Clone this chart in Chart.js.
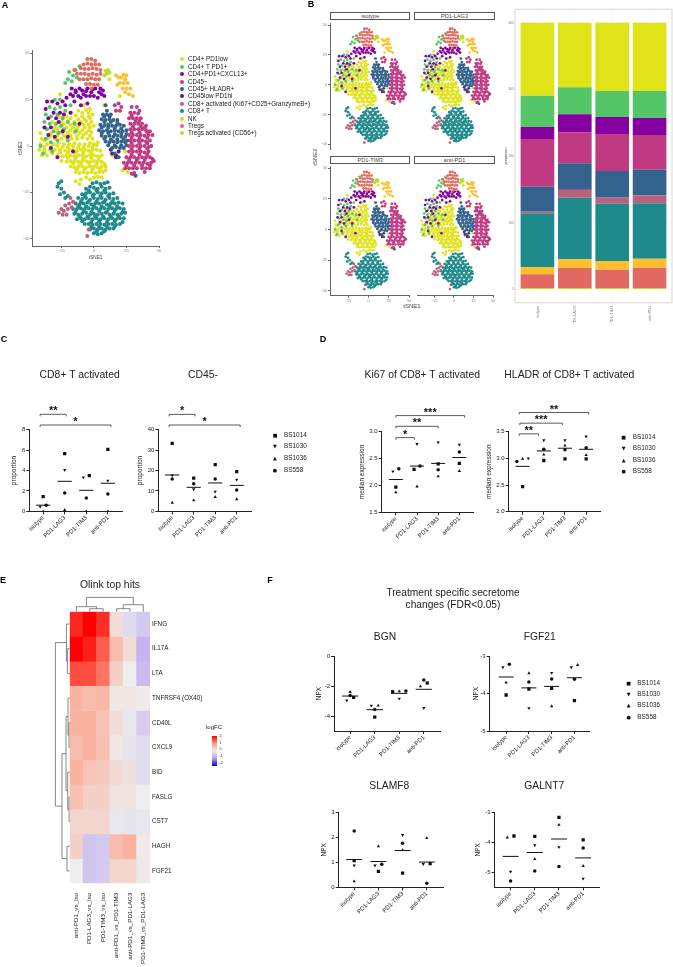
<!DOCTYPE html>
<html>
<head>
<meta charset="utf-8">
<title>Figure</title>
<script src="https://cdn.jsdelivr.net/npm/chart.js@4"></script>
<style>
body{margin:0;background:#fff;width:673px;height:967px;overflow:hidden;position:relative;filter:blur(.3px)}
canvas{position:absolute}
.t{position:absolute;white-space:nowrap;color:#222;font-family:"Liberation Sans",Arial,sans-serif;line-height:1}
.strip{position:absolute;border:1px solid #555;box-sizing:border-box;background:#fff;text-align:center;color:#444;font:5.6px "Liberation Sans",Arial,sans-serif}
</style>
</head>
<body>
<script>
// ---- data -------------------------------------------------------------
const treatments=['isotype','PD1-LAG3','PD1-TIM3','anti-PD1'];
const patients=['BS1014','BS1030','BS1036','BS558'];
const patientGlyphs=['■','▼','▲','●'];

const clusterNames=['CD4+ PD1low','CD4+ T PD1+','CD4+PD1+CXCL13+','CD45−','CD45+ HLADR+','CD45low PD1hi','CD8+ activated (Ki67+CD25+GranzymeB+)','CD8+ T','NK','Tregs','Tregs activated (CD56+)'];
const clusterColors=['#DFE318','#55C667','#8400A0','#C03A83','#33638D','#482878','#B8627D','#1F8A8C','#FDBF2E','#E16A62','#B8DE29'];

// tSNE maps
const cd4Low=[[-10,-18],[-6,-17],[-3,-18],[0,-17],[3,-16.5],[6,-17],[-14,-19],[-11,-20.5],
[-14,-14],[-11,-14.5],[-8,-14],[-5,-14.5],[-2,-14],[1,-14.5],[4,-14],[7,-14],[9,-13],
[-18,-11],[-15,-11.5],[-12,-11],[-9,-11],[-6,-11.5],[-3,-11],[0,-11],[3,-11.5],[6,-11],[9,-11],
[-25,-8],[-21,-8.5],[-18,-8],[-15,-8],[-12,-8.5],[-9,-8],[-6,-8],[-3,-8.5],[0,-8],[3,-8],[6,-8.5],
[-40,-5],[-36,-5],[-28,-5],[-24,-5.5],[-21,-5],[-18,-5],[-15,-5.5],[-12,-5],[-9,-5],[-6,-5.5],[-3,-5],[0,-5],[3,-5.5],[6,-5],
[-42,-2],[-38,-2],[-34,-2],[-30,-2],[-26,-2],[-22,-2.5],[-19,-2],[-16,-2],[-13,-2.5],[-10,-2],[-7,-2],[-4,-2.5],[-1,-2],[2,-2],[5,-2.5],
[-41,1],[-36,1],[-31,1],[-27,1.5],[-23,1],[-19,1],[-15,1.5],[-11,1],[-7,1],[-3,1.5],[0,1],[3,2],
[-40,4],[-35,4.5],[-30,4],[-25,4],[-21,4.5],[-17,4],[-13,4],[-9,4.5],[-5,4],[-1,4],
[-41,7],[-33,7],[-28,7.5],[-24,7],[-20,7],[-15,7.5],[-11,7],[-6,7],[-2,7.5],
[-30,10],[-26,10.5],[-21,10],[-16,10],[-12,10.5],[-7,10],[-3,10],[0,11],
[-32,13],[-25,13],[-20,13.5],[-15,13],[-10,13],[-6,13.5],[-2,13],
[-27,16],[-21,16],[-14,16.5],[-9,16],[-4,16],[-1,17],[-22,19],[-12,19],[-6,19.5],[-3,20],[-26,28],[-8,22],
[8,22],[10,12],[14,-5],[24,-3],[22,-13],[26,-14],[12,36],[20,27],
[-38,3],[-33,5.5],[-28,5.5],[-23,5.5],[-18,5.5],[-13,5.5],[-8,6],[-3,5.5],[-28,9],[-23,8.5],[-18,8.5],[-13,9],[-9,8.5],[-4,8.5],[-29,12],[-23,12],[-18,11.5],[-13,11.5],[-8,11.5],[-4,11.5],[-24,15],[-18,15],[-12,14.5],[-7,14.5],[-3,15],[-17,18],[-9,18],[-4,18],
[-38,-.5],[-33,-.5],[-28,0],[-24,-.5],[-20,-.5],[-16,0],[-12,-.5],[-8,-.5],[-4,0],[-1,-.5],[2,.5],[-38,-3.5],[-32,-4],[-26,-3.5],[-20,-3.5],[-14,-3.5],[-8,-3.5],[-2,-3.5],[-20,-6.5],[-14,-6.5],[-8,-6.5],[-2,-6.5],[4,-6.5],[-16,-9.5],[-10,-9.5],[-4,-9.5],[2,-9.5],[8,-9.5],[-13,-12.5],[-7,-12.5],[-1,-12.5],[5,-12.5]];
const cd4T=[[-19,40],[-16,38],[-20,36],[-17,35],[-22,34],[-14,41],[-13,37],[-11,43],
[-30,25],[-26,25],[-34,21],[-30,20],[-26,21],[-22,19],[-37,17],[-33,16],[-28,17],[-24,15],[-38,13],[-34,12],[-29,12],[-25,11],[-36,9],[-31,8],[-27,7],[-37,4],[-33,2],[-41,0],[-39,-4],[-28,3],[-23,9],[-20,13],[-15,12],[-18,22],[-14,8],[-20,3],[-32,-3]];
const cd4Cxcl=[[-17,31],[-14,29],[-11,31],[-8,28],[-5,31],[-2,29],[1,31],[4,29],[7,30],[-12,27],[-6,27],[0,27],[3,26],[8,27],[-16,27],[-9,30],[-3,27],[5,31],[-18,28],[-14,30],[-6,29.5],[-1,30.5],[6,28],[-10,26],
[-36,24],[-32,24],[-28,23],[-24,24],[-21,26],[-37,20],[-31,18],[-26,18],[-22,22],[-35,15],[-29,15],[-23,17],[-18,18],[-38,10],[-33,10],[-27,13],[-24,8],[-35,6],[-30,5],[-20,5],[-33,-1],[-28,-6],[-16,-3],[-11,12],[-10,22],[-15,24],[-5,23],[14,-4],[17,-6]];
const cd45Neg=[[16,22],[19,23],[21,21],[17,19],[20,19],[29,21],[33,21],[35,19],[28,18],[31,18],[34,17.5],[27,15],[30,15],[33,15],[36,15],[28,12],[31,12],[34,12],[37,12],[40,11],
[28,9],[31,9],[34,9],[37,9],[40,8.5],[43,8],[27,6],[30,6],[33,6],[36,6],[39,5.5],[42,6],[45,6],[28,3],[31,3],[34,3],[37,3],[40,2.5],[43,3],[27,0],[30,0],[33,0],[36,0],[39,0],[42,-.5],[44,0],
[27,-3],[30,-3],[33,-3],[36,-3],[39,-3.5],[42,-3],[25,-6],[28,-6],[31,-6],[34,-6.5],[37,-6],[40,-6],[43,-6],[23,-9],[26,-9],[29,-9],[32,-9],[35,-9],[38,-9],[41,-9.5],[44,-9],[46,-8],
[24,-12],[27,-12],[30,-12],[33,-12],[37,-12],[40,-12],[43,-12],[31,-14.5],[29,-15],[39,-14],
[29,16.5],[32,13.5],[35,13.5],[30,10.5],[36,10.5],[39,10],[29,7.5],[35,7.5],[41,7.5],[29,4.5],[35,4.5],[41,4.5],[29,1.5],[35,1.5],[41,1.5],[29,-1.5],[35,-1.5],[41,-1.5],[29,-4.5],[35,-4.5],[41,-4.5],[27,-7.5],[33,-7.5],[39,-7.5],[45,-7],[25,-10.5],[31,-10.5],[37,-10.5],[43,-10.5]];
const cd45Hladr=[[9,22],[10,19],[7,17],[10,17],[13,17],[6,14.5],[9,14],[12,14.5],[15,14],[18,14],[5,11.5],[8,11],[11,11.5],[14,11],[17,11],[20,11.5],[23,11],[4,8.5],[7,8],[10,8.5],[13,8],[16,8.5],[19,8],[22,8],[25,8.5],
[6,5.5],[9,5],[12,5.5],[15,5],[18,5.5],[21,5],[24,5],[26,3],[9,2.5],[12,2],[15,2.5],[18,2],[21,2.5],[24,2],[14,-1],[17,-.5],[20,-1],[23,-1],[16,-4],[19,-6],[30,-15],[32,-16],
[8,16],[12,16],[8,13],[13,13],[18,12.5],[6,10],[11,10],[16,9.5],[21,9.5],[6,7],[11,7],[16,6.5],[21,6.5],[25,6.5],[8,4],[13,3.5],[18,3.5],[23,3.5],[11,.5],[16,.5],[21,.5],[25,.5]];
const cd45Low=[[17,-5],[19,-3],[13,-2]];
const cd8Act=[[-16,-30],[-19,-31],[-22,-32],[-17,-33],[-20,-34],[-25,-34],[-23,-35],[-27,-36],[-24,-37],[-21,-37],[-18,-28],[-4,-45],[-5,-48.5]];
const cd8T=[[-1,-20],[2,-19.5],[5,-20.5],[8,-20],[10.5,-19.5],[-6,-23],[-3,-22],[0,-22.5],[3,-23],[6,-22],[9,-23],[12,-22.5],
[-9,-26],[-6,-25.5],[-3,-25],[0,-26],[3,-25],[6,-25.5],[9,-25],[12,-26],[15,-25.5],[-12,-28],[-9,-28.5],[-6,-28],[-3,-29],[0,-28],[3,-28.5],[6,-28],[9,-29],[12,-28],[15,-28.5],[18,-28],
[-14,-31],[-11,-31.5],[-8,-31],[-5,-30.5],[-2,-31.5],[1,-31],[4,-31],[7,-30.5],[10,-31.5],[13,-31],[16,-31],[19,-30.5],[22,-31],
[-16,-34],[-13,-34],[-10,-33.5],[-7,-34],[-4,-33.5],[-1,-34],[2,-33.5],[5,-34],[8,-33.5],[11,-34],[14,-33.5],[17,-34],[20,-33.5],[23,-34],
[-15,-36.5],[-12,-37],[-9,-36.5],[-6,-36],[-3,-37],[0,-36.5],[3,-37],[6,-36.5],[9,-36],[12,-37],[15,-36.5],[18,-37],[21,-36.5],[24,-36],
[-13,-39.5],[-10,-39],[-7,-39.5],[-4,-39],[-1,-39.5],[2,-39],[5,-39.5],[8,-39],[11,-39.5],[14,-39],[17,-39.5],[20,-39],[23,-39],
[-7,-42],[-4,-42],[-1,-42.5],[2,-42],[5,-42],[8,-42.5],[11,-42],[14,-42],[17,-42.5],[20,-42],[-3,-45],[0,-44.5],[3,-45],[6,-44.5],[9,-45],[12,-44.5],[15,-44.5],[0,-47],[3,-47.5],[6,-47],
[-27,-20],[-25,-19],[-28,-22],[-25,-23],[-23,-25],[-26,-26],[-22,-28],[-20,-27],
[-4,-24],[2,-24],[8,-24],[-7,-27],[-1,-27],[5,-27],[11,-27],[-10,-30],[-4,-30],[2,-30],[8,-30],[14,-30],[-12,-32.5],[-6,-32.5],[0,-32.5],[6,-32.5],[12,-32.5],[18,-32.5],[-14,-35.5],[-8,-35],[-2,-35.5],[4,-35],[10,-35.5],[16,-35],[22,-35.5],[-11,-38],[-5,-38],[1,-38],[7,-38],[13,-38],[19,-38],[-9,-40.5],[-2,-41],[4,-40.5],[10,-41],[16,-40.5],[22,-41],[-2,-43.5],[4,-43.5],[10,-43.5],[16,-43.5],[2,-46],[8,-46]];
const nk=[[19,37],[23,38.5],[21,37],[24,36],[20,34],[23,34],[26,34],[18,33],[22,31],[25,31],[28,31],[24,29],[27,28],[30,27],[17,38],[25,38]];
const tregs=[[-5,47],[-2,47],[1,46],[-8,44],[-5,44.5],[-2,44],[1,44],[4,44],[-10,42],[-7,41.5],[-4,41.5],[-1,42],[2,41.5],[5,41],[-13,39],[-10,39],[-7,39],[-4,38.5],[-1,39],[2,38.5],[5,39],[-11,36],[-8,36],[-5,36],[-2,36.5],[1,36],[4,36],[-6,33.5],[-3,33.5],[0,33],[3,33],[-15,41],[-2,31]];
const tregsAct=[[9,40.5],[11,41],[10,39],[12,39.5],[8,38]];
const tsneMaps=[cd4Low,cd4T,cd4Cxcl,cd45Neg,cd45Hladr,cd45Low,cd8Act,cd8T,nk,tregs,tregsAct];
const tsneTicks=[-50,-25,0,25,50];

// panel B stacked bars, one value per treatment
const barTregsAct=[2,2,2,2];
const barTregs=[20.5,30,27.5,30.5];
const barNk=[11,13,13,13.5];
const barCd8T=[80.5,92.5,86,83];
const barCd8Act=[2.5,12,9,12];
const barCd45Low=[.5,1,.3,.3];
const barHladr=[37,38.5,39.7,38.2];
const barCd45Neg=[71.5,46.5,55.5,52];
const barCxcl=[18,27,25.5,25.5];
const barCd4T=[47,40.5,39,40.5];
const barCd4Low=[109.5,97,102.5,102.5];
const barTicks=[0,100,200,300,400];

// panels C, D, F: one row per patient, one column per treatment
const cd8ActProp=[[1.44,5.65,3.5,6.08],[.46,4.05,3.33,3.0],[0,.13,0,0],[.59,1.8,1.31,1.7]];
const cd8ActMean=[.6,2.94,2.06,2.75];
const cd45Prop=[[33.3,16.3,22.9,19.4],[17.6,10.8,9.6,15.5],[4.2,5.4,7,5.9],[15.8,13.5,15.8,10.4]];
const cd45Mean=[17.8,11.75,13.9,12.7];
const ki67Expr=[[1.97,2.30,2.40,2.41],[2.26,2.77,2.80,2.76],[1.87,1.98,2.17,2.27],[2.31,2.36,2.29,2.62]];
const ki67Mean=[2.11,2.36,2.41,2.52];
const hladrExpr=[[2.47,2.96,2.99,2.99],[3.0,3.34,3.34,3.41],[2.99,3.07,3.24,3.06],[2.94,3.17,3.16,3.2]];
const hladrMean=[2.85,3.14,3.19,3.17];
const bgnNpx=[[-2.76,-4.07,-2.38,-1.8],[-2.96,-3.31,-2.84,-3.47],[-2.4,-3.31,-2.36,-2.02],[-2.64,-3.56,-2.33,-1.6]];
const bgnMean=[-2.67,-3.58,-2.49,-2.22];
const fgf21Npx=[[-4.04,-3.88,-3.86,-4.19],[-3.3,-4.39,-3.45,-3.3],[-3.71,-3.46,-4.34,-3.24],[-3.22,-3.69,-3.61,-3.62]];
const fgf21Mean=[-3.56,-3.85,-3.81,-3.58];
const slamf8Npx=[[1.07,.64,.57,.95],[.87,.87,2.09,.93],[.24,1.64,1.49,1.97],[2.25,.92,1.76,.16]];
const slamf8Mean=[1.11,1.03,1.47,1.01];
const galnt7Npx=[[-3.79,-3.8,-3.17,-3.92],[-4.98,-4.1,-4.16,-5.21],[-3.84,-4.56,-3.42,-4.79],[-5.29,-4.96,-4.81,-4.19]];
const galnt7Mean=[-4.47,-4.34,-3.89,-4.52];

// significance brackets: from, to (treatment index), axis value, stars
const cd8ActSig=[[-.14,1.07,9.51,'**'],[-.14,3.14,8.46,'*']];
const cd45Sig=[[-.14,1.06,47.5,'*'],[-.14,3.16,42.3,'*']];
const ki67Sig=[[0,.875,2.89,'*'],[0,2,3.10,'**'],[0,3.25,3.30,'***']];
const hladrSig=[[-.16,.75,3.46,'**'],[-.13,1.875,3.66,'***'],[-.16,3.12,3.86,'**']];

// panel E
const heatRows=['IFNG','IL17A','LTA','TNFRSF4 (OX40)','CD40L','CXCL9','BID','FASLG','CST7','HAGH','FGF21'];
const heatCols=['anti-PD1_vs_Iso','PD1-LAG3_vs_Iso','PD1-TIM3_vs_Iso','anti-PD1_vs_PD1-TIM3','anti-PD1_vs_PD1-LAG3','PD1-TIM3_vs_PD1-LAG3'];
const logFC=[[1.75,2,1.7,.2,-.25,-.45],[2,1.8,1.4,.6,.2,-.7],[1.5,1.5,1.25,.35,0,-.6],[.7,.6,.65,.1,.1,.03],[.7,.7,.5,.2,-.08,-.4],[.6,.7,.55,.1,-.12,-.2],[.7,.5,.45,.25,.15,-.2],[.55,.35,.35,.12,.12,0],[.3,.3,.3,-.1,-.12,-.08],[.35,-.5,-.45,.6,.7,.06],[0,-.5,-.45,.3,.3,.05]];
const logFCTicks=[2,1,0,-1,-2];
// dendrograms: [merge height, left, right], a number is a leaf index
const rowTree=[14.3,[3.3,0,[2.3,1,2]],[7.7,[3.7,[1.7,3,[.7,4,5]],[2,6,[.7,7,8]]],[2.7,9,10]]];
const colTree=[14.3,[5,0,[3,1,2]],[7,[3,3,4],5]];

// ---- helpers ----------------------------------------------------------
const FONT='"Liberation Sans",Arial,sans-serif';
Chart.defaults.font.family=FONT;
Chart.defaults.animation=false;
Chart.defaults.responsive=false;
Chart.defaults.devicePixelRatio=1;
Chart.defaults.plugins.legend.display=false;
Chart.defaults.plugins.tooltip.enabled=false;

function label(text,x,y,size,opt={}){
    let d=document.createElement('div');
    d.className='t';
    d.textContent=text;
    d.style.left=x+'px';
    d.style.top=y+'px';
    d.style.fontSize=size+'px';
    if(opt.bold) d.style.fontWeight='bold';
    if(opt.color) d.style.color=opt.color;
    if(opt.family) d.style.fontFamily=opt.family;
    let tx=opt.left?'0':'-50%';
    d.style.transform=`translate(${tx},-50%)`+(opt.rot?` rotate(${opt.rot}deg)`:'');
    document.body.appendChild(d);
}

// canvas around a plot area given in page pixels; L,R,T,B are the margins round it
function makeBox(l,r,t,b,L,R,T,B){
    let c=document.createElement('canvas');
    let left=Math.round(l-L), top=Math.round(t-T);
    let w=Math.ceil(r+R-left), h=Math.ceil(b+B-top);
    c.width=w; c.height=h;
    c.style.left=left+'px'; c.style.top=top+'px';
    c.style.width=w+'px'; c.style.height=h+'px';
    document.body.appendChild(c);
    return {ctx:c.getContext('2d'),L:l-left,R:w-(r-left),T:t-top,B:h-(b-top),w:r-l,h:b-t};
}
const fitX=(box)=>(s)=>{s.height=box.B;s.paddingLeft=0;s.paddingRight=0;};
const fitY=(box)=>(s)=>{s.width=box.L;s.paddingTop=0;s.paddingBottom=0;};
const layoutOf=(box)=>({padding:{top:box.T,right:box.R,left:0,bottom:0}});
const setTicks=(vals)=>(s)=>{s.ticks=vals.map(v=>({value:v}));};

// ---- panel A and B maps -----------------------------------------------
function tsnePlot(l,r,t,b,opt){
    let box=makeBox(l,r,t,b,opt.L,2,2,opt.B);
    let order={0:12,1:11,2:10};
    let axisColor='#666';
    new Chart(box.ctx,{
        type:'scatter',
        data:{datasets:tsneMaps.map((pts,i)=>({
            data:pts.map(p=>({x:p[0],y:p[1]})),
            backgroundColor:clusterColors[i],
            borderWidth:0,
            pointRadius:opt.r,
            order:order[i]||i
        }))},
        options:{
            layout:layoutOf(box),
            scales:{
                x:{type:'linear',min:-47.3,max:50,afterFit:fitX(box),afterBuildTicks:setTicks(tsneTicks.slice(1)),
                   display:opt.showX,
                   border:{color:axisColor,width:1},
                   grid:{drawOnChartArea:false,tickLength:2,color:axisColor},
                   ticks:{font:{size:opt.tick},color:'#777',padding:1,maxRotation:0,autoSkip:false,callback:v=>String(v).replace('-','−')},
                   title:{display:!!opt.xTitle,text:opt.xTitle,font:{size:opt.titleSize},color:'#444',padding:0}},
                y:{type:'linear',min:-53.9,max:51.8,afterFit:fitY(box),afterBuildTicks:setTicks(tsneTicks),
                   display:opt.showY,
                   border:{color:axisColor,width:1},
                   grid:{drawOnChartArea:false,tickLength:2,color:axisColor},
                   ticks:{font:{size:opt.tick},color:'#777',padding:1,autoSkip:false,callback:v=>String(v).replace('-','−')},
                   title:{display:!!opt.yTitle,text:opt.yTitle,font:{size:opt.titleSize},color:'#444',padding:0}}
            }
        }
    });
}

tsnePlot(32.3,160.3,48,246,{L:14.5,B:14,r:2,tick:3.8,titleSize:4.6,xTitle:'tSNE1',yTitle:'tSNE2',showX:true,showY:true});
clusterNames.forEach((n,i)=>{
    let y=59.3+i*7.4;
    let dot=document.createElement('div');
    dot.style.cssText=`position:absolute;left:180px;top:${y-2}px;width:4.2px;height:4.2px;border-radius:50%;background:${clusterColors[i]}`;
    document.body.appendChild(dot);
    label(n,188,y,6.3,{left:true});
});

const facets=[
    {name:'isotype',l:330,t:20.7,b:151.8,sx:20.3,showY:true,showX:false},
    {name:'PD1-LAG3',l:414.3,t:20.7,b:151.8,sx:20.3,showY:false,showX:false},
    {name:'PD1-TIM3',l:330,t:164.3,b:295.7,sx:164,showY:true,showX:true},
    {name:'anti-PD1',l:414.3,t:164.3,b:295.7,sx:164,showY:false,showX:true}
];
facets.forEach(f=>{
    tsnePlot(f.l,f.l+80.4,f.t,f.b,{L:f.showY?10:1,B:f.showX?7:1,r:1.35,tick:3.6,titleSize:6,showX:f.showX,showY:f.showY});
    let s=document.createElement('div');
    s.className='strip';
    s.textContent=f.name;
    s.style.cssText+=`;left:${f.l}px;top:${f.sx-8.2}px;width:80.4px;height:8.4px;line-height:6.6px`;
    document.body.appendChild(s);
});
label('tSNE1',412,306,6,{color:'#444'});
label('tSNE2',315,157,6,{color:'#444',rot:-90});

// ---- panel B stacked bars ---------------------------------------------
const framePlugin={
    id:'frame',
    afterDraw(chart){
        let a=chart.chartArea,c=chart.ctx;
        c.save();
        c.strokeStyle='#d8d8d8';
        c.lineWidth=1;
        c.strokeRect(a.left,a.top,a.width,a.height);
        c.restore();
    }
};
(function(){
    let box=makeBox(515,672,9.3,302.7,11,1,1,20);
    let stack=[barTregsAct,barTregs,barNk,barCd8T,barCd8Act,barCd45Low,barHladr,barCd45Neg,barCxcl,barCd4T,barCd4Low];
    let colors=[10,9,8,7,6,5,4,3,2,1,0].map(i=>clusterColors[i]);
    new Chart(box.ctx,{
        type:'bar',
        data:{datasets:stack.map((vals,i)=>({
            data:vals.map((v,k)=>({x:k,y:v})),
            backgroundColor:colors[i],
            borderWidth:0,
            barPercentage:.9,
            categoryPercentage:1
        }))},
        plugins:[framePlugin],
        options:{
            layout:layoutOf(box),
            scales:{
                x:{type:'linear',offset:false,stacked:true,min:-.6,max:3.6,afterFit:fitX(box),afterBuildTicks:setTicks([0,1,2,3]),
                   border:{display:false},
                   grid:{offset:false,color:'#f1f1f1',tickLength:2,lineWidth:.5},
                   ticks:{font:{size:4},color:'#888',padding:1,maxRotation:90,minRotation:90,autoSkip:false,callback:v=>treatments[v]}},
                y:{type:'linear',stacked:true,min:-20,max:420,afterFit:fitY(box),afterBuildTicks:setTicks(barTicks),
                   border:{display:false},
                   grid:{color:'#f1f1f1',tickLength:1,lineWidth:.5},
                   ticks:{font:{size:3.2},color:'#777',padding:.5,autoSkip:false},
                   title:{display:true,text:'proportion',font:{size:3.8},color:'#444',padding:0}}
            }
        }
    });
})();

// ---- dot plots --------------------------------------------------------
const bracketPlugin={
    id:'brackets',
    afterDraw(chart,args,opts){
        let c=chart.ctx,xs=chart.scales.x,ys=chart.scales.y;
        c.save();
        c.strokeStyle='#333';
        c.fillStyle='#111';
        c.lineWidth=.8;
        (opts.list||[]).forEach(b=>{
            let x0=xs.getPixelForValue(b[0]),x1=xs.getPixelForValue(b[1]),y=ys.getPixelForValue(b[2]);
            c.beginPath();
            c.moveTo(x0,y+2);c.lineTo(x0,y);c.lineTo(x1,y);c.lineTo(x1,y+2);
            c.stroke();
            c.font='bold 11px '+FONT;
            c.textAlign='center';
            c.textBaseline='middle';
            c.fillText(b[3],(x0+x1)/2,y-3);
        });
        c.restore();
    }
};
const dodgeSpread={1:[0],2:[-.14,.14],3:[-.27,0,.27],4:[-.3,-.1,.1,.3]};
// points whose values nearly coincide are set side by side, as Prism does
function dodge(series,gap){
    let xs=series.map(r=>r.map(()=>0));
    treatments.forEach((_,c)=>{
        let items=series.map((r,p)=>({p,v:r[c]})).sort((a,b)=>a.v-b.v);
        let group=[];
        let flush=()=>{group.forEach((it,i)=>{xs[it.p][c]=c+dodgeSpread[group.length][i];});group=[];};
        items.forEach(it=>{
            if(group.length&&it.v-group[0].v>gap) flush();
            group.push(it);
        });
        flush();
    });
    return xs;
}
function dotPlot(cfg){
    let box=makeBox(cfg.l,cfg.r,cfg.t,cfg.b,cfg.l-cfg.titleX+3.9,3,cfg.top||4,30);
    let xmin=(cfg.l-cfg.c0)/cfg.step,xmax=(cfg.r-cfg.c0)/cfg.step;
    let gap=3.6*(cfg.ymax-cfg.ymin)/box.h;
    let xs=dodge(cfg.values,gap);
    let styles=[{pointStyle:'rect',r:2.3},{pointStyle:'triangle',r:1.9,rot:180},{pointStyle:'triangle',r:1.9},{pointStyle:'circle',r:1.75}];
    let sets=cfg.values.map((row,p)=>({
        label:patients[p],
        data:row.map((v,c)=>({x:xs[p][c],y:v})),
        pointStyle:styles[p].pointStyle,
        rotation:styles[p].rot||0,
        pointRadius:styles[p].r,
        backgroundColor:'#111',
        borderWidth:0,
        showLine:false
    }));
    let meanLine=[];
    cfg.means.forEach((m,c)=>{
        meanLine.push({x:c-.33,y:m},{x:c+.33,y:m},{x:c+.33,y:null});
    });
    sets.push({label:'mean',data:meanLine,showLine:true,spanGaps:false,pointRadius:0,borderColor:'#111',borderWidth:1});
    new Chart(box.ctx,{
        type:'scatter',
        data:{datasets:sets},
        plugins:[bracketPlugin],
        options:{
            layout:layoutOf(box),
            plugins:{brackets:{list:cfg.sig||[]}},
            scales:{
                x:{type:'linear',min:xmin,max:xmax,afterFit:fitX(box),afterBuildTicks:setTicks([0,1,2,3]),
                   border:{color:'#222',width:1},
                   grid:{drawOnChartArea:false,tickLength:3,color:'#222'},
                   ticks:{font:{size:5.9},color:'#222',padding:0,maxRotation:45,minRotation:45,autoSkip:false,callback:v=>treatments[v]}},
                y:{type:'linear',min:cfg.ymin,max:cfg.ymax,afterFit:fitY(box),afterBuildTicks:setTicks(cfg.ticks),
                   border:{color:'#222',width:1},
                   grid:{drawOnChartArea:false,tickLength:3,color:'#222'},
                   ticks:{font:{size:6},color:'#222',padding:1,autoSkip:false,callback:v=>v.toFixed(cfg.dec||0)},
                   title:{display:true,text:cfg.yTitle,font:{size:6.5},color:'#222',padding:0}}
            }
        }
    });
}
dotPlot({l:29.3,r:123,t:429.7,b:511.3,c0:43.3,step:21.8,ymin:0,ymax:8,ticks:[0,2,4,6,8],values:cd8ActProp,means:cd8ActMean,sig:cd8ActSig,yTitle:'proportion',titleX:14.3,top:30});
dotPlot({l:158.3,r:251.7,t:429.7,b:511.3,c0:172.3,step:21.67,ymin:0,ymax:40,ticks:[0,10,20,30,40],values:cd45Prop,means:cd45Mean,sig:cd45Sig,yTitle:'proportion',titleX:140,top:30});
dotPlot({l:381.7,r:474,t:431.7,b:512.3,c0:396,step:21.4,ymin:1.5,ymax:3,ticks:[1.5,2,2.5,3],dec:1,values:ki67Expr,means:ki67Mean,sig:ki67Sig,yTitle:'median expression',titleX:362.3,top:32});
dotPlot({l:508.7,r:600.7,t:431.7,b:511.7,c0:522.7,step:21.35,ymin:2,ymax:3.5,ticks:[2,2.5,3,3.5],dec:1,values:hladrExpr,means:hladrMean,sig:hladrSig,yTitle:'median expression',titleX:488.7,top:32});
dotPlot({l:334,r:440.7,t:655.7,b:731,c0:350.3,step:24.7,ymin:-5,ymax:0,ticks:[0,-2,-4],values:bgnNpx,means:bgnMean,yTitle:'NPX',titleX:319});
dotPlot({l:489.7,r:590,t:655.7,b:731,c0:506.3,step:23,ymin:-5,ymax:-3,ticks:[-3,-4,-5],values:fgf21Npx,means:fgf21Mean,yTitle:'NPX',titleX:476});
dotPlot({l:338.7,r:443.7,t:812.3,b:887.3,c0:354.3,step:24.35,ymin:0,ymax:3,ticks:[0,1,2,3],values:slamf8Npx,means:slamf8Mean,yTitle:'NPX',titleX:324.3});
dotPlot({l:494.7,r:599.7,t:812.3,b:887.3,c0:510.7,step:24.35,ymin:-5.5,ymax:-3,ticks:[-3,-4,-5],values:galnt7Npx,means:galnt7Mean,yTitle:'NPX',titleX:478.3});

function patientLegend(xSym,xText,ys){
    patients.forEach((p,i)=>{
        label(patientGlyphs[i],xSym,ys[i],5,{family:'"DejaVu Sans"',color:'#111'});
        label(p,xText,ys[i],6.4,{left:true});
    });
}
patientLegend(275,284,[435.3,446.3,458.3,470]);
patientLegend(623.7,632.7,[436.7,448,459.7,470.7]);
patientLegend(628.7,637.3,[683,694.3,705.3,716.7]);

// ---- panel E heatmap --------------------------------------------------
const fcStops=[[-2,[0,0,255]],[-1,[180,155,240]],[0,[238,238,238]],[1,[255,154,128]],[2,[255,0,0]]];
function fcColor(v){
    for(let i=1;i<fcStops.length;i++){
        if(v<=fcStops[i][0]){
            let a=fcStops[i-1],b=fcStops[i],k=(v-a[0])/(b[0]-a[0]);
            return 'rgb('+a[1].map((c,j)=>Math.round(c+(b[1][j]-c)*k)).join(',')+')';
        }
    }
    return 'rgb(255,0,0)';
}
const dendroPlugin={
    id:'dendro',
    afterDraw(chart){
        let c=chart.ctx,a=chart.chartArea,xs=chart.scales.x,ys=chart.scales.y;
        c.save();
        c.strokeStyle='#555';
        c.lineWidth=.7;
        function walk(node,leafPos,seg){
            if(typeof node==='number') return {pos:leafPos(node),h:0};
            let p=walk(node[1],leafPos,seg),q=walk(node[2],leafPos,seg);
            seg(p,q,node[0]);
            return {pos:(p.pos+q.pos)/2,h:node[0]};
        }
        walk(colTree,i=>xs.getPixelForTick(i),(p,q,h)=>{
            c.beginPath();
            c.moveTo(p.pos,a.top-p.h);c.lineTo(p.pos,a.top-h);c.lineTo(q.pos,a.top-h);c.lineTo(q.pos,a.top-q.h);
            c.stroke();
        });
        walk(rowTree,i=>ys.getPixelForValue(i+.5),(p,q,h)=>{
            c.beginPath();
            c.moveTo(a.left-p.h,p.pos);c.lineTo(a.left-h,p.pos);c.lineTo(a.left-h,q.pos);c.lineTo(a.left-q.h,q.pos);
            c.stroke();
        });
        c.restore();
    }
};
(function(){
    let box=makeBox(69.7,150,611.7,883.3,17,70,17,85);
    new Chart(box.ctx,{
        type:'bar',
        data:{labels:heatCols,datasets:heatRows.map((name,r)=>({
            label:name,
            data:heatCols.map(()=>1),
            backgroundColor:logFC[r].map(fcColor),
            borderWidth:0,
            barPercentage:1,
            categoryPercentage:1
        }))},
        plugins:[dendroPlugin],
        options:{
            layout:{padding:{top:box.T,left:box.L,right:0,bottom:0}},
            scales:{
                x:{stacked:true,afterFit:(s)=>{s.height=box.B;s.paddingLeft=0;s.paddingRight=0;},
                   border:{display:false},
                   grid:{display:false,drawTicks:false},
                   ticks:{font:{size:6.2},color:'#222',padding:9.5,maxRotation:90,minRotation:90,autoSkip:false}},
                y:{stacked:true,position:'right',min:0,max:heatRows.length,reverse:true,
                   afterFit:(s)=>{s.width=box.R;s.paddingTop=0;s.paddingBottom=0;},
                   afterBuildTicks:setTicks(heatRows.map((_,i)=>i+.5)),
                   border:{display:false},
                   grid:{display:false,drawTicks:false},
                   ticks:{font:{size:6.3},color:'#222',padding:2,autoSkip:false,callback:(v,i)=>heatRows[i]}}
            }
        }
    });
})();
label('logFC',214,727,6);
(function(){
    let bar=document.createElement('div');
    let css=fcStops.slice().reverse().map(s=>`rgb(${s[1].join(',')})`).join(',');
    bar.style.cssText=`position:absolute;left:211.7px;top:735.7px;width:5.6px;height:30.3px;background:linear-gradient(${css})`;
    document.body.appendChild(bar);
    logFCTicks.forEach((v,i)=>label(String(v),219.5,736.7+i*6.8,3.6,{left:true}));
})();

// ---- titles and panel letters -----------------------------------------
label('CD8+ T activated',79.7,375,10.4);
label('CD45-',203,375,10.4);
label('Ki67 of CD8+ T activated',422.3,375,10.4);
label('HLADR of CD8+ T activated',569.3,375,10.4);
label('Olink top hits',110,585,10.4);
label('Treatment specific secretome',453,592.7,10.2);
label('changes (FDR<0.05)',453,604.7,10.2);
label('BGN',385,636.7,10.3);
label('FGF21',539.7,636.7,10.3);
label('SLAMF8',389.3,786,10.3);
label('GALNT7',544.3,786,10.3);
[['A',5,5],['B',311,4],['C',4,339],['D',323,339],['E',3,580],['F',270,580]].forEach(p=>label(p[0],p[1],p[2],9,{bold:true,color:'#000'}));
</script>
</body>
</html>
